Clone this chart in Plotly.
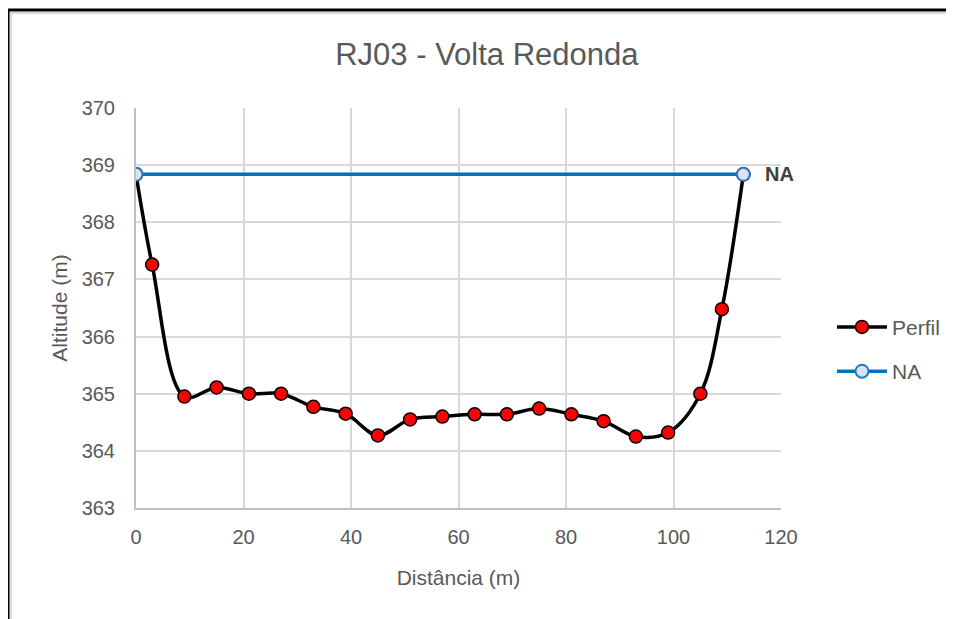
import plotly.graph_objects as go

# perfil transversal da secao
distancia = [0, 3, 9, 15, 21, 27, 33, 39, 45, 51, 57, 63, 69, 75, 81, 87, 93, 99, 105, 109, 113]
altitude = [368.84, 367.26, 364.95, 365.11, 365.0, 365.0, 364.77, 364.65, 364.27, 364.55, 364.6,
            364.64, 364.64, 364.74, 364.64, 364.52, 364.25, 364.32, 365.0, 366.48, 368.84]

# nivel d'agua
na_dist = [0, 113]
na_alt = [368.84, 368.84]

FONT = "Liberation Sans Narrow, Arial Narrow, Liberation Sans, Arial, sans-serif"
GRAY = "#595959"

fig = go.Figure()

fig.add_trace(go.Scatter(
    x=distancia, y=altitude, name="Perfil", mode="lines+markers",
    line=dict(color="black", width=3.5, shape="spline", smoothing=1),
    marker=dict(size=13, color="#FF0000", line=dict(color="black", width=1.5)),
    legendgroup="a",
))
fig.add_trace(go.Scatter(
    x=na_dist, y=na_alt, name="NA", mode="lines+markers",
    line=dict(color="#0070C0", width=3.5),
    marker=dict(size=13, color="#DAE3F3", line=dict(color="#2E75B6", width=2)),
    legendgroup="b",
))

fig.add_annotation(x=na_dist[-1], y=na_alt[-1], text="<b>NA</b>", showarrow=False,
                   xanchor="left", xshift=20, font=dict(size=20, color="#404040", family=FONT))

# moldura da imagem original
fig.add_shape(type="path", xref="paper", yref="paper",
              path="M -0.1984,-0.4 L -0.1984,1.245 L 1.4,1.245",
              line=dict(color="black", width=3))
fig.add_shape(type="path", xref="paper", yref="paper",
              path="M -0.1938,-0.4 L -0.1938,1.2375 L 1.4,1.2375",
              line=dict(color="#D0D0D0", width=1.5))

fig.update_layout(
    width=946, height=611,
    margin=dict(l=128, r=173, t=100, b=111),
    plot_bgcolor="white", paper_bgcolor="white",
    font=dict(family=FONT, size=20, color=GRAY),
    title=dict(text="RJ03 - Volta Redonda", xref="paper", x=0.544, xanchor="center",
               y=0.925, yanchor="middle", font=dict(size=31, color=GRAY, family=FONT)),
    legend=dict(xref="container", x=0.871, xanchor="left", yref="container", y=0.4415,
                yanchor="middle", traceorder="grouped", tracegroupgap=14, itemwidth=50,
                font=dict(size=21, color=GRAY), bgcolor="rgba(0,0,0,0)"),
    showlegend=True,
)

fig.update_xaxes(range=[0, 120], dtick=20, showgrid=True, gridcolor="#D9D9D9", gridwidth=2,
                 showline=True, linecolor="#BFBFBF", linewidth=2, zeroline=False,
                 ticks="", ticklabelstandoff=10, tickfont=dict(size=20, color=GRAY),
                 title=dict(text="Distância (m)", standoff=23, font=dict(size=21, color=GRAY)))
fig.update_yaxes(range=[363, 370], dtick=1, showgrid=True, gridcolor="#D9D9D9", gridwidth=2,
                 showline=True, linecolor="#BFBFBF", linewidth=2, zeroline=False,
                 ticks="", ticklabelstandoff=15, tickfont=dict(size=20, color=GRAY),
                 title=dict(text="Altitude (m)", standoff=8, font=dict(size=21, color=GRAY)))

fig.write_html("out.html")
